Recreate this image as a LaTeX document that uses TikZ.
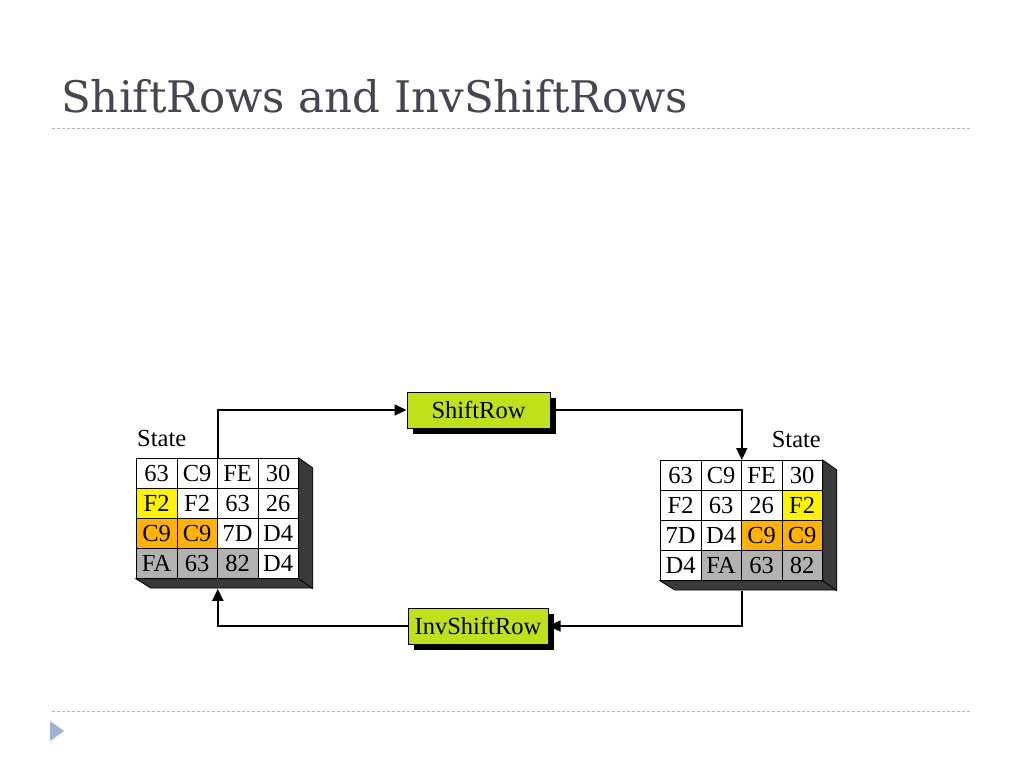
\documentclass[tikz,border=0pt]{standalone}
\usepackage{fontspec}
\newfontfamily\diagfont{Liberation Serif}
\newfontfamily\titlefont{DejaVu Serif}
\usetikzlibrary{positioning, arrows.meta, shadows}

\definecolor{titlegray}{RGB}{70,70,82}
\definecolor{rulegray}{RGB}{172,184,198}
\definecolor{bulletblue}{RGB}{157,180,208}
\definecolor{limebox}{RGB}{192,224,26}
\definecolor{cellyel}{RGB}{255,244,0}
\definecolor{cellora}{RGB}{255,178,0}
\definecolor{cellgry}{RGB}{178,178,178}
\definecolor{sidegry}{RGB}{58,58,58}

\begin{document}
\begin{tikzpicture}[x=1pt, y=-1pt,
    every node/.style={font=\diagfont\fontsize{24.5}{25}\selectfont, inner sep=0pt},
    cell/.style={draw=black, line width=0.8pt, minimum width=40.5pt, minimum height=30pt, anchor=north west},
    sideface/.style={fill=sidegry, draw=black, line width=0.8pt},
    opbox/.style={draw=black, line width=1pt, fill=limebox, minimum height=36pt,
      drop shadow={shadow xshift=6pt, shadow yshift=-6pt, fill=black, opacity=1}},
    flow/.style={line width=1.7pt, -{Triangle[length=12pt, width=11pt]}}]
    % Halaman
    \useasboundingbox (0,0) rectangle (1024,768);
    \fill[white] (0,0) rectangle (1024,768);

    % Judul
    \node[anchor=base west, font=\titlefont\fontsize{43.5}{44}\selectfont, text=titlegray]
      (title) at (61,112) {ShiftRows and InvShiftRows};
    \draw[rulegray, line width=1pt, dash pattern=on 3pt off 2pt] (52,128) -- (972,128);
    \draw[rulegray, line width=1pt, dash pattern=on 3pt off 2pt] (52,711) -- (972,711);
    \fill[bulletblue] (50,721) -- (64,731) -- (50,741) -- cycle;

    % Ukuran sel
    \def\w{40.5}
    \def\h{30}

    % state kiri
    \foreach \row [count=\u from 0] in {{63/white,C9/white,FE/white,30/white},
        {F2/cellyel,F2/white,63/white,26/white},
        {C9/cellora,C9/cellora,7D/white,D4/white},
        {FA/cellgry,63/cellgry,82/cellgry,D4/white}}{
        \foreach \val/\col [count=\v from 0] in \row{
            \pgfmathsetmacro{\x}{136+\v*\w}
            \pgfmathsetmacro{\y}{458+\u*\h}
            \node[cell, fill=\col] (L-\u-\v) at (\x,\y) {\val};
          }
      }
    \filldraw[sideface] (L-0-3.north east) -- ++(14,10) -- ++(0,120) -- ++(-162,0)
      -- (L-3-0.south west) -- (L-3-3.south east) -- cycle;
    \draw[line width=0.8pt] (L-3-3.south east) -- ++(14,10);
    \node[anchor=base west] (Lstate) at (137,446) {State};

    % state kanan
    \foreach \row [count=\u from 0] in {{63/white,C9/white,FE/white,30/white},
        {F2/white,63/white,26/white,F2/cellyel},
        {7D/white,D4/white,C9/cellora,C9/cellora},
        {D4/white,FA/cellgry,63/cellgry,82/cellgry}}{
        \foreach \val/\col [count=\v from 0] in \row{
            \pgfmathsetmacro{\x}{660+\v*\w}
            \pgfmathsetmacro{\y}{460+\u*\h}
            \node[cell, fill=\col] (R-\u-\v) at (\x,\y) {\val};
          }
      }
    \filldraw[sideface] (R-0-3.north east) -- ++(14,10) -- ++(0,120) -- ++(-162,0)
      -- (R-3-0.south west) -- (R-3-3.south east) -- cycle;
    \draw[line width=0.8pt] (R-3-3.south east) -- ++(14,10);
    \node[anchor=base east] (Rstate) at (821,447) {State};

    % operasi
    \node[opbox, minimum width=143pt] (shift) at (478.5,410) {ShiftRow};
    \node[opbox, minimum width=140pt] (inv) at (478,626) {InvShiftRow};

    % panah
    \coordinate (Lfoot) at ([yshift=-10pt]L-3-1.south east);
    \coordinate (Rfoot) at ([yshift=-10pt]R-3-1.south east);
    \draw[flow] (L-0-1.north east) |- (shift.west);
    \draw[flow] (shift.east) -| (R-0-1.north east);
    \draw[flow] (Rfoot) |- (inv.east);
    \draw[flow] (inv.west) -| (Lfoot);
  \end{tikzpicture}
\end{document}
